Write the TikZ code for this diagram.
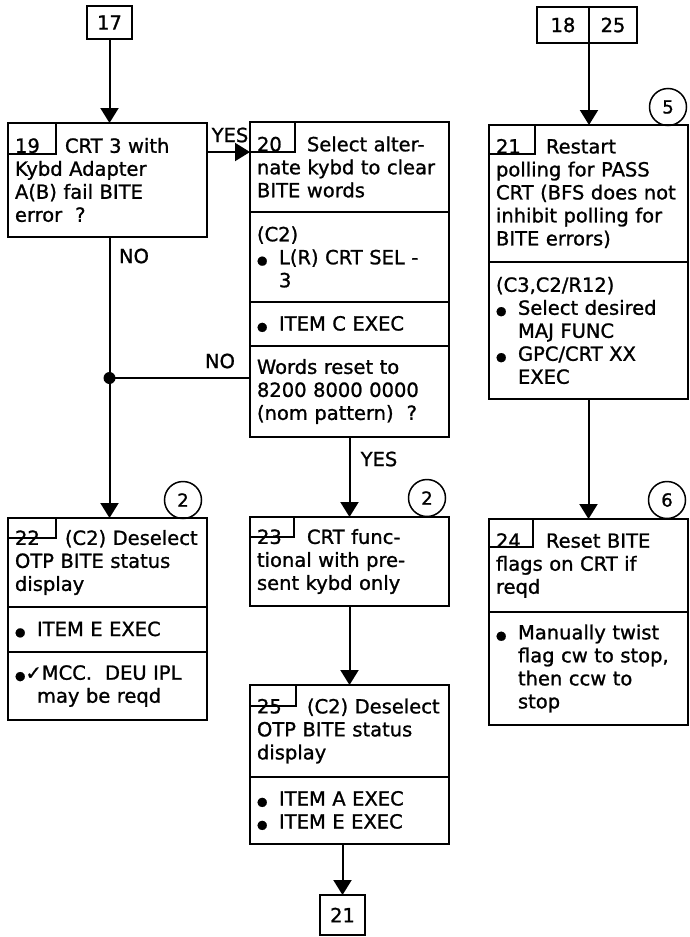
\documentclass[tikz,border=0pt]{standalone}
\usepackage{fontspec}
\setmainfont[FakeBold=1.1]{DejaVu Sans}
\usetikzlibrary{arrows.meta, positioning, calc}
\newcommand{\bul}{\makebox[22pt][l]{\fontsize{12}{12}\selectfont ●}}
\newcommand{\ind}{\hspace*{22pt}}
\newcommand{\stepno}[1]{\makebox[50pt][l]{#1}}
\tikzset{
  >={Triangle[length=15pt,width=18pt]},
  font=\fontsize{19.5}{23}\selectfont,
  stepbox/.style={
    draw, line width=2pt, outer sep=0pt, inner xsep=7pt, inner ysep=3pt,
    align=left, text width=185pt, anchor=north west
  },
  tab/.style={
    draw, line width=2pt, outer sep=0pt, inner sep=0pt,
    anchor=north west, minimum width=48pt, minimum height=#1
  },
  tab/.default=22pt,
  goto/.style={draw, line width=2pt, outer sep=0pt, inner sep=2pt},
  tag/.style={
    circle, draw, line width=1.5pt, minimum size=37pt, inner sep=0pt,
    font=\fontsize{18}{18}\selectfont
  },
  wire/.style={line width=2pt},
  lbl/.style={inner sep=0pt}
}
\begin{document}
\begin{tikzpicture}[x=1pt,y=-1pt]
  \useasboundingbox (0,0) rectangle (689,937);

  % off-page connectors at the top
  \node[goto, minimum width=45pt, minimum height=33pt] (n17) at (109.5,22.5) {17};
  \node[goto, minimum width=52pt, minimum height=36pt] (n18) at (563,25) {18};
  \node[goto, minimum width=48pt, minimum height=36pt, right=0pt of n18] (n25) {25};

  % left column
  \node[stepbox, minimum height=114pt] (s19) at (8,123)
    {\stepno{19}CRT 3 with\\Kybd Adapter\\A(B) fail BITE\\error~ ?};
  \node[tab=31pt] (t19) at (s19.north west) {};

  \node[stepbox, minimum height=89pt] (s22a) at (8,518)
    {\stepno{22}(C2) Deselect\\OTP BITE status\\display};
  \node[tab=20pt] (t22) at (s22a.north west) {};
  \node[stepbox, minimum height=45pt, below=0pt of s22a] (s22b) {\bul ITEM E EXEC};
  \node[stepbox, minimum height=68pt, below=0pt of s22b] (s22c)
    {{\fontsize{12}{12}\selectfont ●}✓MCC.~ DEU IPL\\\ind may be reqd};

  % middle column
  \node[stepbox, minimum height=90pt] (s20a) at (250,122)
    {\stepno{20}Select alter-\\nate kybd to clear\\BITE words};
  \node[tab=30pt, minimum width=45pt] (t20) at (s20a.north west) {};
  \node[stepbox, minimum height=90pt, below=0pt of s20a] (s20b)
    {(C2)\\\bul L(R) CRT SEL -\\\ind 3};
  \node[stepbox, minimum height=44pt, below=0pt of s20b] (s20c) {\bul ITEM C EXEC};
  \node[stepbox, minimum height=91pt, below=0pt of s20c] (s20d)
    {Words reset to\\8200 8000 0000\\(nom pattern)~ ?};

  \node[stepbox, minimum height=89pt] (s23) at (250,517)
    {\stepno{23}CRT func-\\tional with pre-\\sent kybd only};
  \node[tab=20pt, minimum width=44pt] (t23) at (s23.north west) {};

  \node[stepbox, minimum height=92pt] (s25a) at (250,685)
    {\stepno{25}(C2) Deselect\\OTP BITE status\\display};
  \node[tab=21pt, minimum width=46pt] (t25) at (s25a.north west) {};
  \node[stepbox, minimum height=67pt, below=0pt of s25a] (s25b)
    {\bul ITEM A EXEC\\\bul ITEM E EXEC};

  \node[goto, minimum width=45pt, minimum height=40pt] (n21) at (342.5,915) {21};

  % right column
  \node[stepbox, minimum height=137pt] (s21a) at (489,125)
    {\stepno{21}Restart\\polling for PASS\\CRT (BFS does not\\inhibit polling for\\BITE errors)};
  \node[tab=29pt, minimum width=46pt] (t21) at (s21a.north west) {};
  \node[stepbox, minimum height=137pt, below=0pt of s21a] (s21b)
    {(C3,C2/R12)\\\bul Select desired\\\ind MAJ FUNC\\\bul GPC/CRT XX\\\ind EXEC};

  \node[stepbox, minimum height=93pt] (s24a) at (489,519)
    {\stepno{24}Reset BITE\\flags on CRT if\\reqd};
  \node[tab=28pt, minimum width=44pt] (t24) at (s24a.north west) {};
  \node[stepbox, minimum height=113pt, below=0pt of s24a] (s24b)
    {\bul Manually twist\\\ind flag cw to stop,\\\ind then ccw to\\\ind stop};

  % circled step marks
  \node[tag] (c5) at (668,107) {5};
  \node[tag] (c22) at (183,500) {2};
  \node[tag] (c23) at (427,498) {2};
  \node[tag] (c6) at (667,500) {6};

  % connectors
  \coordinate (nojoin) at (n17 |- 0,378);
  \draw[wire,->] (n17.south) -- (n17.south |- s19.north);
  \draw[wire,->] (s19.east |- t20.south) -- (t20.south west);
  \node[lbl] (yes20) at (230,135) {YES};
  \draw[wire] (n17 |- s19.south) -- (nojoin);
  \node[lbl] (no19) at (134,256) {NO};
  \draw[wire] (s20d.west |- nojoin) -- (nojoin);
  \node[lbl] (no20) at (220,361) {NO};
  \fill (nojoin) circle (6pt);
  \draw[wire,->] (nojoin) -- (nojoin |- s22a.north);
  \draw[wire,->] (s20d.south) -- (s23.north);
  \node[lbl] (yes23) at (379,459) {YES};
  \draw[wire,->] (s23.south) -- (s25a.north);
  \draw[wire,->] (s25b.south -| n21.north) -- (n21.north);
  \draw[wire,->] (n18.south east) -- (n18.south east |- s21a.north);
  \draw[wire,->] (s21b.south) -- (s24a.north);
\end{tikzpicture}
\end{document}
